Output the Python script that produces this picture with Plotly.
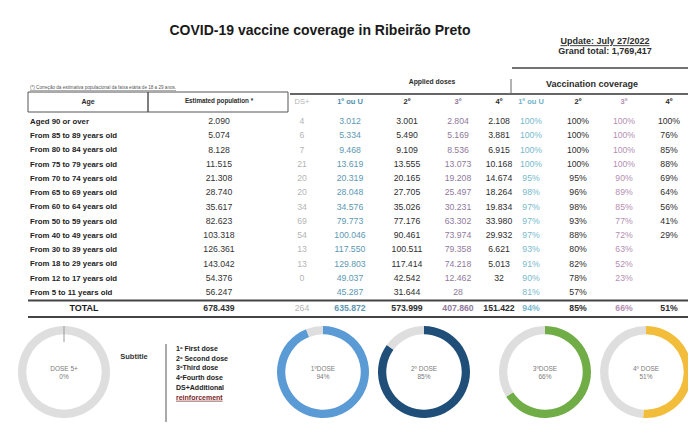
import plotly.graph_objects as go

# ---------------- data ----------------
age_groups = ["Aged 90 or over", "From 85 to 89 years old", "From 80 to 84 years old",
              "From 75 to 79 years old", "From 70 to 74 years old", "From 65 to 69 years old",
              "From 60 to 64 years old", "From 50 to 59 years old", "From 40 to 49 years old",
              "From 30 to 39 years old", "From 18 to 29 years old", "From 12 to 17 years old",
              "From 5 to 11 years old"]
population = [2090, 5074, 8128, 11515, 21308, 28740, 35617, 82623, 103318, 126361, 143042, 54376, 56247]
dose_ds = [4, 6, 7, 21, 20, 20, 34, 69, 54, 13, 13, 0, None]
dose_1 = [3012, 5334, 9468, 13619, 20319, 28048, 34576, 79773, 100046, 117550, 129803, 49037, 45287]
dose_2 = [3001, 5490, 9109, 13555, 20165, 27705, 35026, 77176, 90461, 100511, 117414, 42542, 31644]
dose_3 = [2804, 5169, 8536, 13073, 19208, 25497, 30231, 63302, 73974, 79358, 74218, 12462, 28]
dose_4 = [2108, 3881, 6915, 10168, 14674, 18264, 19834, 33980, 29932, 6621, 5013, 32, None]
cov_1 = [100, 100, 100, 100, 95, 98, 97, 97, 97, 93, 91, 90, 81]
cov_2 = [100, 100, 100, 100, 95, 96, 98, 93, 88, 80, 82, 78, 57]
cov_3 = [100, 100, 100, 100, 90, 89, 85, 77, 72, 63, 52, 23, None]
cov_4 = [100, 76, 85, 88, 69, 64, 56, 41, 29, None, None, None, None]
totals_applied = {"population": 678439, "ds": 264, "d1": 635872, "d2": 573999, "d3": 407860, "d4": 151422}
totals_cov = {"c1": 94, "c2": 85, "c3": 66, "c4": 51}
header_labels = ["DS+", "1º ou U", "2º", "3º", "4º", "1º ou U", "2º", "3º", "4º"]
donut_labels = ["DOSE 5+", "1ºDOSE", "2º DOSE", "3ºDOSE", "4º DOSE"]
donut_values = [0, 94, 85, 66, 51]
legend_lines = ["1º First dose", "2º Second dose", "3ºThird dose", "4ºFourth dose", "DS+Additional"]
legend_last = "reinforcement"

# ---------------- layout constants ----------------
W, H = 696, 430
OFF = 8  # page body margin
FW, FH = W - OFF, H - OFF
FONT = "Liberation Sans, Arial, sans-serif"
DARK = "#2b2b2b"
col_x = {"pop": 219, "ds": 302, "d1": 350, "d2": 407, "d3": 458, "d4": 499,
         "c1": 531, "c2": 578, "c3": 624, "c4": 669}
col_color = {"pop": "#333333", "ds": "#b5b5b5", "d1": "#5d98b3", "d2": "#2e2e2e", "d3": "#8f7a9c",
             "d4": "#2e2e2e", "c1": "#78b9cc", "c2": "#2e2e2e", "c3": "#b48fb3", "c4": "#2e2e2e"}
row0, row_step = 122, 14.25
row_y = [row0 + i * row_step for i in range(len(age_groups))]
total_y = 309


def fmt_num(v):
    return "" if v is None else f"{v:,}".replace(",", ".")


def fmt_pct(v):
    return "" if v is None else f"{v}%"


fig = go.Figure()


def text_trace(xs, ys, texts, size, color, bold=False, pos="middle center"):
    if bold:
        texts = [f"<b>{t}</b>" if t else t for t in texts]
    fig.add_trace(go.Scatter(x=xs, y=ys, text=texts, mode="text", textposition=pos,
                             textfont=dict(family=FONT, size=size, color=color),
                             hoverinfo="skip", showlegend=False))


# age labels
text_trace([30] * len(age_groups), row_y, age_groups, 7.8, "#222222", bold=True, pos="middle right")
# numeric columns
cols = [("pop", population, fmt_num), ("ds", dose_ds, fmt_num), ("d1", dose_1, fmt_num),
        ("d2", dose_2, fmt_num), ("d3", dose_3, fmt_num), ("d4", dose_4, fmt_num),
        ("c1", cov_1, fmt_pct), ("c2", cov_2, fmt_pct), ("c3", cov_3, fmt_pct), ("c4", cov_4, fmt_pct)]
for key, vals, f in cols:
    text_trace([col_x[key]] * len(vals), row_y, [f(v) for v in vals], 8.7, col_color[key])

# totals row
text_trace([84], [total_y], ["TOTAL"], 9, "#1a1a1a", bold=True)
tot_keys = ["pop", "ds", "d1", "d2", "d3", "d4"]
tot_src = ["population", "ds", "d1", "d2", "d3", "d4"]
for k, s in zip(tot_keys, tot_src):
    text_trace([col_x[k]], [total_y], [fmt_num(totals_applied[s])], 8.7, col_color[k],
               bold=(k not in ("ds",)))
for k in ["c1", "c2", "c3", "c4"]:
    text_trace([col_x[k]], [total_y], [fmt_pct(totals_cov[k])], 8.7, col_color[k], bold=True)

# header row
hdr_keys = ["ds", "d1", "d2", "d3", "d4", "c1", "c2", "c3", "c4"]
hdr_cols = ["#b5b5b5", "#4f8eab", DARK, "#8f7a9c", DARK, "#6fb2c6", DARK, "#b48fb3", DARK]
for k, lab, c in zip(hdr_keys, header_labels, hdr_cols):
    text_trace([col_x[k]], [102], [lab], 7.5, c, bold=(k != "ds"))
text_trace([88], [102], ["Age"], 7, DARK, bold=True)
text_trace([219], [101], ["Estimated population *"], 6.3, DARK, bold=True)
text_trace([432], [82], ["Applied doses"], 6.8, DARK, bold=True)
text_trace([592], [85], ["Vaccination coverage"], 9, DARK, bold=True)

# ---------------- donuts ----------------
donut_cx = [64, 323, 424, 545, 646]
donut_cy = 372
donut_r = 46
donut_colors = ["#c9c9c9", "#5b9bd5", "#1f4e79", "#70ad47", "#f2bd3a"]
REST = "#dedede"
for lab, val, cx, col in zip(donut_labels, donut_values, donut_cx, donut_colors):
    fig.add_trace(go.Pie(
        values=[val, 100 - val], hole=0.82, sort=False, direction="clockwise", rotation=0,
        marker=dict(colors=[col, REST], line=dict(width=0)),
        textinfo="none", hoverinfo="skip", showlegend=False,
        title=dict(text=f"{lab}<br>{val}%", position="middle center",
                   font=dict(family=FONT, size=6.5, color="#7a7a7a")),
        domain=dict(x=[(cx - donut_r - OFF) / FW, (cx + donut_r - OFF) / FW],
                    y=[(H - donut_cy - donut_r) / FH, (H - donut_cy + donut_r) / FH]),
    ))

# subtitle / legend
text_trace([134], [357], ["Subtitle"], 7.5, "#333333", bold=True)
leg_y = [349 + i * 9.8 for i in range(len(legend_lines) + 1)]
text_trace([176] * len(legend_lines), leg_y[:-1], legend_lines, 7, "#222222", bold=True, pos="middle right")
text_trace([176], [leg_y[-1]], [f"<u>{legend_last}</u>"], 7, "#7a1f1f", bold=True, pos="middle right")

# title & update info
text_trace([320], [31], ["COVID-19 vaccine coverage in Ribeirão Preto"], 14, "#1a1a1a", bold=True)
text_trace([605], [42], ["<u>Update: July 27/2022</u>"], 9, "#2b2b2b", bold=True)
text_trace([605], [52], ["Grand total: 1,769,417"], 9, "#2b2b2b", bold=True)
text_trace([30], [88], ["<u>(*) Correção da estimativa populacional da faixa etária de 18 a 29 anos.</u>"],
           4.6, "#555555", pos="middle right")

# ---------------- shapes (rules/boxes) ----------------
shapes = []


def line(x0, y0, x1, y1, w=1.2, c="#555555"):
    shapes.append(dict(type="line", x0=x0, y0=y0, x1=x1, y1=y1, xref="x", yref="y",
                       line=dict(color=c, width=w)))


line(512, 68, 692, 68, 1.6, "#444444")
line(511, 79, 511, 93, 1, "#666666")
line(290, 94, 692, 94, 1.8, "#666666")
shapes.append(dict(type="rect", x0=28, y0=92, x1=148, y1=112, xref="x", yref="y",
                   line=dict(color="#555555", width=1)))
shapes.append(dict(type="rect", x0=148, y0=92, x1=288, y1=112, xref="x", yref="y",
                   line=dict(color="#555555", width=1)))
line(28, 300.5, 692, 300.5, 1.8, "#444444")
line(28, 317, 692, 317, 2.2, "#444444")
line(166, 344, 166, 422, 1, "#555555")
# zero-value tick on the DS+ donut
line(donut_cx[0], donut_cy - donut_r, donut_cx[0], donut_cy - donut_r + 16, 1, "#9a9a9a")

fig.update_layout(
    width=FW, height=FH, margin=dict(l=0, r=0, t=0, b=0),
    paper_bgcolor="white", plot_bgcolor="white",
    xaxis=dict(range=[OFF, W], visible=False, fixedrange=True),
    yaxis=dict(range=[H, OFF], visible=False, fixedrange=True),
    shapes=shapes,
)

fig.write_html("out.html")
